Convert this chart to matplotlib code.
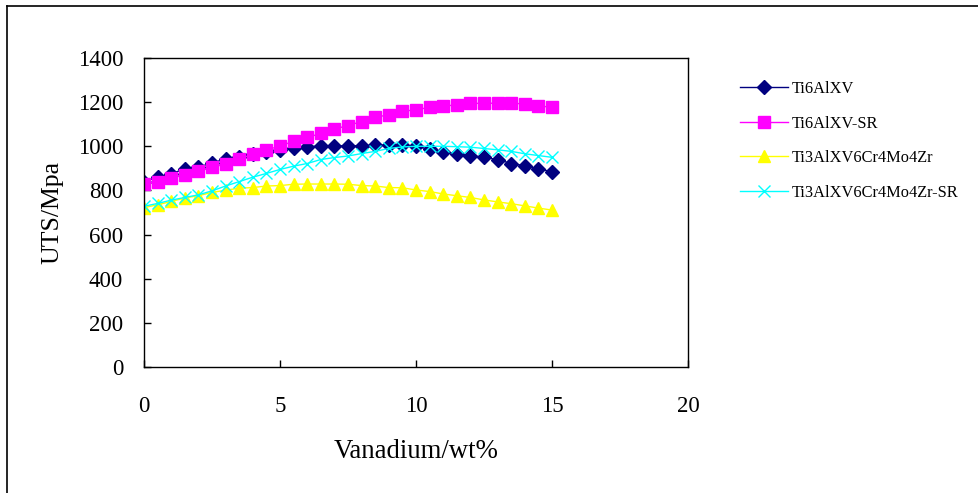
import numpy as np
import matplotlib
matplotlib.use('Agg')
import matplotlib.pyplot as plt
from matplotlib.lines import Line2D

# Vanadium content (wt%) and UTS values
vanadium = [0, 0.5, 1, 1.5, 2, 2.5, 3, 3.5, 4, 4.5, 5, 5.5, 6, 6.5, 7, 7.5,
            8, 8.5, 9, 9.5, 10, 10.5, 11, 11.5, 12, 12.5, 13, 13.5, 14, 14.5, 15]

ti6alxv = [840, 860, 876, 897, 906, 924, 943, 952, 966, 974, 983, 992, 996, 1003, 1002, 1002,
           1002, 1004, 1005, 1005, 1000, 986, 976, 966, 958, 950, 940, 922, 912, 898, 885]

ti6alxv_sr = [830, 840, 858, 868, 886, 904, 920, 942, 964, 982, 1002, 1022, 1040, 1058, 1078, 1094,
              1112, 1132, 1142, 1158, 1166, 1176, 1184, 1186, 1194, 1195, 1195, 1194, 1193, 1184, 1176]

ti3alxv = [722, 735, 750, 766, 776, 791, 801, 810, 813, 820, 822, 828, 829, 829, 829, 828,
           822, 820, 813, 812, 802, 795, 784, 776, 768, 757, 748, 740, 730, 720, 711]

ti3alxv_sr = [728, 741, 756, 768, 780, 798, 820, 840, 860, 877, 895, 910, 922, 940, 949, 956,
              967, 977, 990, 997, 1000, 1000, 1000, 998, 996, 990, 984, 977, 966, 958, 950]

labels = ['Ti6AlXV', 'Ti6AlXV-SR', 'Ti3AlXV6Cr4Mo4Zr', 'Ti3AlXV6Cr4Mo4Zr-SR']

plt.rcParams['font.family'] = ['Liberation Serif', 'DejaVu Serif']

fig = plt.figure(figsize=(9.79, 4.93), dpi=100)
ax = fig.add_axes([144 / 979, 1 - 367 / 493, 544 / 979, 309 / 493])

ax.plot(vanadium, ti6alxv, color='#000080', lw=1, marker='D', ms=7.3,
        mec='#000080', mfc='#000080', label=labels[0])
ax.plot(vanadium, ti6alxv_sr, color='#ff00ff', lw=1, marker='s', ms=8.5,
        mec='#ff00ff', mfc='#ff00ff', label=labels[1])
ax.plot(vanadium, ti3alxv, color='#ffff00', lw=1, marker='^', ms=8.5,
        mec='#ffff00', mfc='#ffff00', label=labels[2])
ax.plot(vanadium, ti3alxv_sr, color='#00ffff', lw=1, marker='x', ms=8,
        mew=1, mec='#00ffff', label=labels[3])

ax.set_xlim(0, 20)
ax.set_ylim(0, 1400)
ax.set_xticks([0, 5, 10, 15, 20])
ax.set_yticks(range(0, 1401, 200))
ax.tick_params(direction='in', length=5, width=1, labelsize=16.5)
ax.tick_params(axis='y', pad=15)
ax.tick_params(axis='x', pad=21)
for s in ax.spines.values():
    s.set_linewidth(1)

ax.set_xlabel('Vanadium/wt%', fontsize=19.3, labelpad=16)
ax.set_ylabel('UTS/Mpa', fontsize=18.5, labelpad=10)

ax.legend(loc='upper left', bbox_to_anchor=(732 / 979, 1 - 73 / 493),
          bbox_transform=fig.transFigure, frameon=False, fontsize=11.8,
          handlelength=2.9, labelspacing=1.13, handletextpad=0.25, borderpad=0)

# outer chart border (top and left visible)
fig.add_artist(Line2D([7 / 979, 7 / 979], [0, 1 - 6 / 493], color='black', lw=1.2,
                      transform=fig.transFigure))
fig.add_artist(Line2D([7 / 979, 1], [1 - 6 / 493, 1 - 6 / 493], color='black', lw=1.2,
                      transform=fig.transFigure))

fig.savefig('out.png', dpi=100)
